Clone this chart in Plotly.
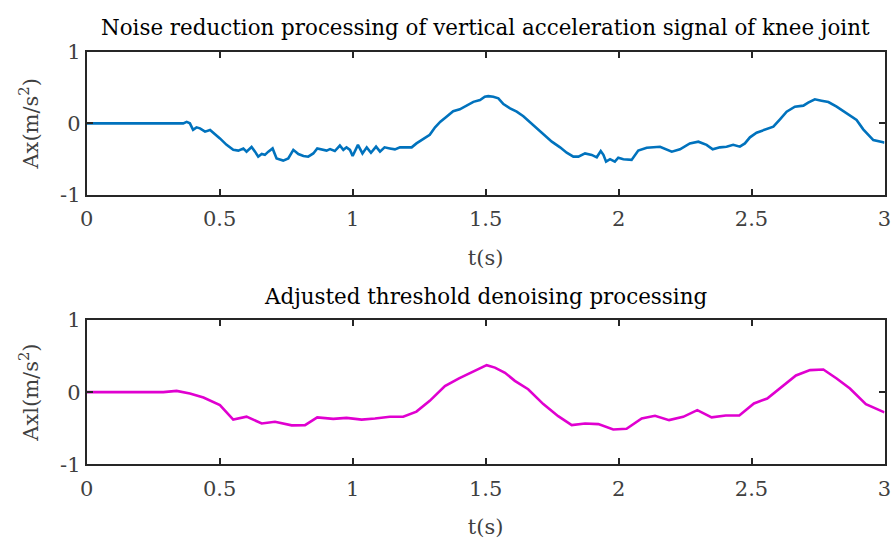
import plotly.graph_objects as go

# ---- data ----
t_raw = [0.0, 0.363, 0.376, 0.388, 0.40, 0.413, 0.426, 0.445, 0.464, 0.476, 0.501, 0.526, 0.551,
         0.570, 0.589, 0.601, 0.62, 0.633, 0.645, 0.658, 0.670, 0.683, 0.699, 0.714, 0.739, 0.758,
         0.777, 0.796, 0.815, 0.833, 0.852, 0.867, 0.883, 0.902, 0.915, 0.933, 0.952, 0.965, 0.977,
         0.990, 1.0, 1.02, 1.037, 1.053, 1.069, 1.088, 1.103, 1.12, 1.14, 1.159, 1.178, 1.2, 1.222,
         1.24, 1.266, 1.29, 1.31, 1.33, 1.353, 1.378, 1.403, 1.435, 1.454, 1.479, 1.497, 1.51,
         1.529, 1.548, 1.567, 1.592, 1.617, 1.642, 1.673, 1.705, 1.73, 1.749, 1.78, 1.805, 1.83,
         1.849, 1.874, 1.899, 1.918, 1.933, 1.943, 1.953, 1.968, 1.986, 1.999, 2.018, 2.049, 2.074,
         2.106, 2.156, 2.20, 2.231, 2.268, 2.30, 2.331, 2.354, 2.381, 2.406, 2.431, 2.456, 2.475,
         2.494, 2.519, 2.557, 2.582, 2.607, 2.632, 2.663, 2.695, 2.713, 2.738, 2.763, 2.789, 2.82,
         2.857, 2.895, 2.92, 2.958, 2.995, 3.0]
ax_raw = [0.0, 0.0, 0.02, 0.0, -0.09, -0.056, -0.07, -0.116, -0.093, -0.13, -0.21, -0.30, -0.37,
          -0.38, -0.35, -0.395, -0.33, -0.395, -0.465, -0.428, -0.44, -0.395, -0.35, -0.49, -0.52,
          -0.49, -0.37, -0.428, -0.456, -0.465, -0.42, -0.35, -0.36, -0.38, -0.36, -0.386, -0.31,
          -0.37, -0.335, -0.37, -0.456, -0.30, -0.42, -0.335, -0.41, -0.325, -0.395, -0.335, -0.35,
          -0.363, -0.335, -0.33, -0.335, -0.28, -0.223, -0.16, -0.056, 0.023, 0.093, 0.17, 0.195,
          0.256, 0.30, 0.326, 0.372, 0.38, 0.372, 0.35, 0.27, 0.21, 0.163, 0.10, 0.0, -0.116, -0.195,
          -0.256, -0.335, -0.41, -0.465, -0.465, -0.42, -0.44, -0.474, -0.386, -0.44, -0.535, -0.50,
          -0.535, -0.48, -0.50, -0.51, -0.38, -0.34, -0.326, -0.395, -0.363, -0.28, -0.256, -0.30,
          -0.363, -0.335, -0.326, -0.30, -0.326, -0.28, -0.195, -0.13, -0.084, -0.047, 0.056, 0.163,
          0.233, 0.247, 0.288, 0.335, 0.316, 0.298, 0.233, 0.14, 0.047, -0.084, -0.233, -0.265, -0.27]

t_den = [0.0, 0.288, 0.338, 0.388, 0.439, 0.501, 0.551, 0.601, 0.658, 0.708, 0.771, 0.821, 0.867,
         0.927, 0.977, 1.034, 1.084, 1.14, 1.19, 1.24, 1.29, 1.347, 1.40, 1.454, 1.504, 1.535,
         1.573, 1.61, 1.66, 1.717, 1.773, 1.824, 1.874, 1.924, 1.98, 2.03, 2.087, 2.137, 2.19,
         2.243, 2.296, 2.35, 2.403, 2.454, 2.509, 2.559, 2.613, 2.667, 2.72, 2.77, 2.82, 2.87,
         2.93, 2.995, 3.0]
axl_den = [0.0, 0.0, 0.018, -0.018, -0.074, -0.18, -0.38, -0.34, -0.434, -0.41, -0.46, -0.457,
           -0.35, -0.37, -0.356, -0.38, -0.365, -0.34, -0.34, -0.27, -0.12, 0.083, 0.19, 0.29,
           0.374, 0.34, 0.268, 0.157, 0.04, -0.166, -0.333, -0.457, -0.434, -0.443, -0.517, -0.508,
           -0.365, -0.328, -0.388, -0.342, -0.25, -0.35, -0.323, -0.323, -0.157, -0.088, 0.074,
           0.231, 0.305, 0.314, 0.19, 0.05, -0.166, -0.273, -0.28]

x_ticks = [0, 0.5, 1, 1.5, 2, 2.5, 3]
x_tick_labels = ["0", "0.5", "1", "1.5", "2", "2.5", "3"]
y_ticks = [-1, 0, 1]
y_tick_labels = ["-1", "0", "1"]

title_top = "Noise reduction processing of vertical acceleration signal of knee joint"
title_bot = "Adjusted threshold denoising processing"

W, H = 892, 541
FONT = "DejaVu Serif, Liberation Serif, serif"
AXC = "#262626"
TXTC = "#404040"

def px(x):
    return min(1.0, max(0.0, x / W))

def py(y):
    return min(1.0, max(0.0, 1 - y / H))

fig = go.Figure()
fig.add_trace(go.Scatter(x=t_raw, y=ax_raw, mode="lines",
                         line=dict(color="#0072BD", width=2.6), xaxis="x", yaxis="y"))
fig.add_trace(go.Scatter(x=t_den, y=axl_den, mode="lines",
                         line=dict(color="#E000D0", width=2.6), xaxis="x2", yaxis="y2"))

xdom = [px(86.7), px(884.5)]
top_dom = [py(195), py(51.7)]
bot_dom = [py(464.3), py(320)]

def xaxis(anchor):
    return dict(domain=xdom, anchor=anchor, range=[0, 3], tickvals=x_ticks, ticktext=x_tick_labels,
                automargin=False, ticklabelstandoff=4,
                showgrid=False, zeroline=False, showline=True, linecolor=AXC, linewidth=2,
                mirror="ticks", ticks="inside", ticklen=6, tickwidth=2, tickcolor=AXC,
                tickfont=dict(family=FONT, size=21, color=TXTC),
                title=dict(text="t(s)", font=dict(family=FONT, size=21, color=TXTC), standoff=20))

def yaxis(anchor, dom, title):
    return dict(domain=dom, anchor=anchor, range=[-1, 1], tickvals=y_ticks, ticktext=y_tick_labels,
                automargin=False,
                showgrid=False, zeroline=False, showline=True, linecolor=AXC, linewidth=2,
                mirror="ticks", ticks="inside", ticklen=6, tickwidth=2, tickcolor=AXC,
                tickfont=dict(family=FONT, size=21, color=TXTC),
                title=dict(text=title, font=dict(family=FONT, size=21, color=TXTC), standoff=16))

fig.update_layout(
    template="none",
    width=W, height=H, margin=dict(l=0, r=0, t=0, b=0, autoexpand=False),
    paper_bgcolor="white", plot_bgcolor="white", showlegend=False,
    xaxis=xaxis("y"), yaxis=yaxis("x", top_dom, "Ax(m/s<sup>2</sup>)"),
    xaxis2=xaxis("y2"), yaxis2=yaxis("x2", bot_dom, "Axl(m/s<sup>2</sup>)"),
    annotations=[
        dict(text=title_top, x=(xdom[0] + xdom[1]) / 2, y=py(28), xref="paper", yref="paper",
             showarrow=False, font=dict(family=FONT, size=21.4, color="black"), yanchor="middle"),
        dict(text=title_bot, x=(xdom[0] + xdom[1]) / 2, y=py(296), xref="paper", yref="paper",
             showarrow=False, font=dict(family=FONT, size=21.4, color="black"), yanchor="middle"),
    ],
)

fig.write_html("out.html")
